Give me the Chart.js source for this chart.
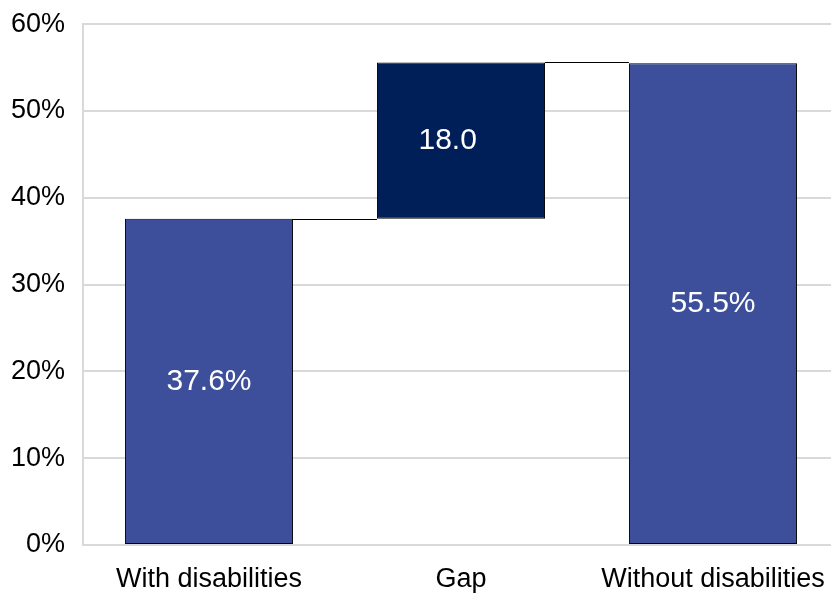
<!DOCTYPE html>
<html>
<head>
<meta charset="utf-8">
<script src="https://cdn.jsdelivr.net/npm/chart.js@4/dist/chart.umd.min.js"></script>
<style>
    html, body { margin: 0; padding: 0; background: #fff; overflow: hidden; }
    #wrap { position: relative; width: 839px; height: 604px; margin-top: -10px; }
</style>
</head>
<body>
<div id="wrap"><canvas id="gapChart"></canvas></div>
<script>
'use strict'

// waterfall: two rates and the gap between them
const categories = ["With disabilities", "Gap", "Without disabilities"];
const barStarts = [0, 37.6, 0];
const barValues = [37.6, 18.0, 55.5];
const yTicks = [0, 10, 20, 30, 40, 50, 60];

const rateColor = "#3d4f9a";
const gapColor = "#001f59";

const floating = barValues.map((v, i) => [barStarts[i], barStarts[i] + v]);
const labels = barValues.map(v => v.toFixed(1) + "%");

// thin lines joining the top of each bar to the next one
const connectors = {
    id: "connectors",
    afterDatasetsDraw(chart) {
        const meta = chart.getDatasetMeta(0);
        const y = chart.scales.y;
        const ctx = chart.ctx;
        ctx.save();
        ctx.strokeStyle = "#000";
        ctx.lineWidth = 1;
        for (let i = 0; i < meta.data.length - 1; i++) {
            const a = meta.data[i];
            const b = meta.data[i + 1];
            const level = Math.round(y.getPixelForValue(floating[i][1])) + 0.5;
            ctx.beginPath();
            ctx.moveTo(a.x + a.width / 2, level);
            ctx.lineTo(b.x - b.width / 2, level);
            ctx.stroke();
        }
        ctx.restore();
    }
};

// value text in the middle of each bar; the gap keeps the "%" slot but hides the sign
const barLabels = {
    id: "barLabels",
    afterDatasetsDraw(chart) {
        const meta = chart.getDatasetMeta(0);
        const ctx = chart.ctx;
        ctx.save();
        ctx.fillStyle = "#fff";
        ctx.font = "30px 'Liberation Sans', Arial, sans-serif";
        ctx.textAlign = "left";
        ctx.textBaseline = "middle";
        meta.data.forEach((bar, i) => {
            const full = labels[i];
            const shown = i === 1 ? full.replace("%", "") : full;
            const left = bar.x - ctx.measureText(full).width / 2;
            ctx.fillText(shown, left, (bar.y + bar.base) / 2);
        });
        ctx.restore();
    }
};

new Chart(document.getElementById("gapChart"), {
    type: "bar",
    data: {
        labels: categories,
        datasets: [{
            data: floating,
            backgroundColor: [rateColor, gapColor, rateColor],
            borderColor: "#000",
            borderWidth: 1,
            borderSkipped: false,
            barPercentage: 0.667,
            categoryPercentage: 1
        }]
    },
    options: {
        responsive: true,
        maintainAspectRatio: false,
        animation: false,
        layout: { padding: { top: 14, left: 0, right: 0, bottom: 0 } },
        plugins: {
            legend: { display: false },
            tooltip: { enabled: false }
        },
        scales: {
            x: {
                grid: { display: false },
                border: { display: false },
                ticks: {
                    color: "#000",
                    padding: 10,
                    font: { family: "'Liberation Sans', Arial, sans-serif", size: 27 }
                },
                afterFit(scale) { scale.height = 49; }
            },
            y: {
                min: 0,
                max: 60,
                afterBuildTicks(scale) { scale.ticks = yTicks.map(v => ({ value: v })); },
                grid: { color: "#d9d9d9", lineWidth: 2, drawTicks: false },
                border: { color: "#d9d9d9", width: 2 },
                ticks: {
                    color: "#000",
                    padding: 18,
                    callback: v => v + "%",
                    font: { family: "'Liberation Sans', Arial, sans-serif", size: 27 }
                },
                afterFit(scale) { scale.width = 83; }
            }
        }
    },
    plugins: [connectors, barLabels]
});
</script>
</body>
</html>
